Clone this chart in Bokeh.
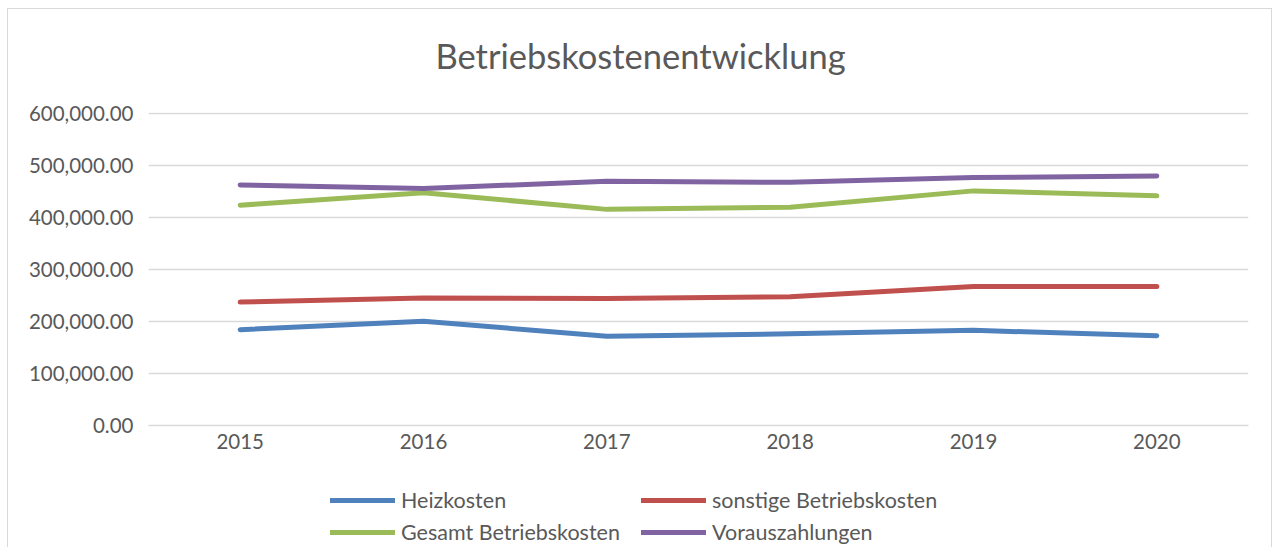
from bokeh.plotting import figure
from bokeh.layouts import column
from bokeh.models import (FactorRange, Range1d, FixedTicker, NumeralTickFormatter,
                          Legend, LegendItem, Label)
from bokeh.embed import file_html
from bokeh.resources import INLINE

years = ["2015", "2016", "2017", "2018", "2019", "2020"]
heizkosten = [184000, 200000, 171500, 176000, 182700, 172500]
sonstige = [237000, 245000, 244000, 247000, 267000, 267000]
gesamt = [423000, 447000, 415000, 419000, 450500, 441000]
voraus = [462000, 455000, 469000, 467000, 476000, 479000]
series_names = ["Heizkosten", "sonstige Betriebskosten", "Gesamt Betriebskosten", "Vorauszahlungen"]
series_colors = ["#4F81BD", "#C0504D", "#9BBB59", "#8064A2"]
y_ticks = [0, 100000, 200000, 300000, 400000, 500000, 600000]
title_text = "Betriebskostenentwicklung"

FONT = "Lato"
GREY = "#595959"
W = 1263


def blank(height):
    f = figure(width=W, height=height, x_range=Range1d(0, 100), y_range=Range1d(0, 100),
               output_backend="svg", toolbar_location=None,
               min_border_left=0, min_border_right=0, min_border_top=0, min_border_bottom=0)
    f.axis.visible = False
    f.grid.grid_line_color = None
    f.outline_line_color = None
    f.border_fill_color = "white"
    return f


# title strip
tf = blank(90)
tf.add_layout(Label(x=492, y=44, x_units="screen", y_units="screen", text=title_text,
                    text_font=FONT, text_font_size="34.5px", text_color=GREY,
                    text_align="center", text_baseline="alphabetic"))

# main chart
p = figure(width=W, height=376, x_range=FactorRange(*years), y_range=Range1d(0, 601000),
           output_backend="svg", toolbar_location=None,
           min_border_left=140, min_border_right=23, min_border_top=13, min_border_bottom=50)
p.outline_line_color = None
p.background_fill_color = "white"
p.border_fill_color = "white"
p.x_range.range_padding = 0

series = [heizkosten, sonstige, gesamt, voraus]
for vals, col in zip(series, series_colors):
    p.line(years, vals, line_color=col, line_width=5, line_cap="round", line_join="round")

p.yaxis.ticker = FixedTicker(ticks=y_ticks)
p.yaxis.formatter = NumeralTickFormatter(format="0,0.00")
p.yaxis.axis_line_color = None
p.yaxis.major_tick_line_color = None
p.yaxis.minor_tick_line_color = None
p.yaxis.major_label_text_font = FONT
p.yaxis.major_label_text_font_size = "20.5px"
p.yaxis.major_label_text_color = GREY
p.yaxis.major_label_standoff = 9

p.xaxis.axis_line_color = "#d9d9d9"
p.xaxis.axis_line_width = 1.3
p.xaxis.major_tick_line_color = None
p.xaxis.minor_tick_line_color = None
p.xaxis.major_label_text_font = FONT
p.xaxis.major_label_text_font_size = "20.5px"
p.xaxis.major_label_text_color = GREY
p.xaxis.major_label_standoff = 2

p.xgrid.grid_line_color = None
p.ygrid.grid_line_color = "#d9d9d9"
p.ygrid.grid_line_width = 1.3

# legend strip (frames in the column are aligned)
lg = blank(72)
# off-range stand-ins that only carry the legend styles
leg_renderers = {n: lg.line(x=[-20, -10], y=[-20, -20], line_color=c, line_width=5, line_cap="round")
                 for n, c in zip(series_names, series_colors)}
order = ["Heizkosten", "Gesamt Betriebskosten", "sonstige Betriebskosten", "Vorauszahlungen"]
items = [LegendItem(label=n, renderers=[leg_renderers[n]]) for n in order]
legend = Legend(items=items, ncols=2, location=(182, 2),
                label_text_font=FONT, label_text_font_size="21.5px", label_text_color=GREY,
                glyph_width=65, glyph_height=24, label_height=24, label_width=234,
                label_standoff=6, spacing=6,
                padding=0, margin=0, border_line_color=None, background_fill_alpha=0)
lg.add_layout(legend)

layout = column(tf, p, lg, spacing=0)
layout.styles = {"margin-left": "7px", "margin-top": "8px",
                 "border-left": "1px solid #d9d9d9", "border-right": "1px solid #d9d9d9",
                 "border-top": "1px solid #d9d9d9"}

open("out.html", "w").write(file_html(layout, INLINE))
